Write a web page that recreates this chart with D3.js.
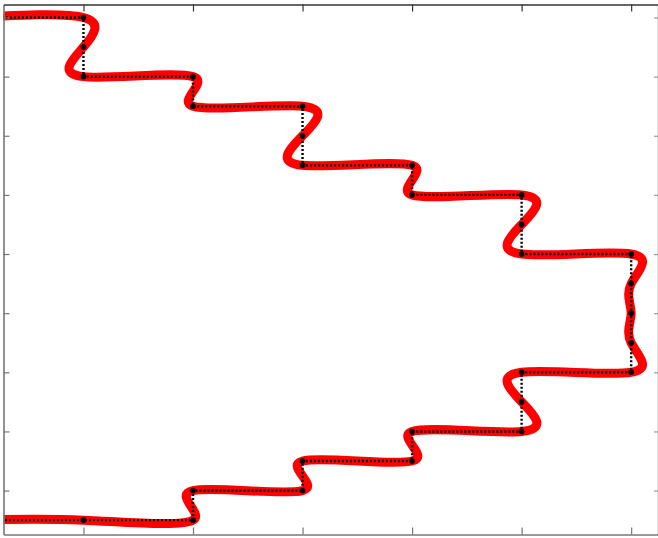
<!DOCTYPE html>
<html>
<head>
<meta charset="utf-8">
<script src="https://cdn.jsdelivr.net/npm/d3@7"></script>
<style>
  html, body { margin: 0; padding: 0; background: #fff; }
  svg { display: block; }
</style>
</head>
<body>
<svg id="chart" width="658" height="538"></svg>
<script>
// Path vertices (x, y) in axis units
const xs = [0, 1, 1, 1, 2, 2, 3, 3, 3, 4, 4, 5, 5, 5, 6, 6, 6, 6, 6, 5, 5, 5, 4, 4, 3, 3, 2, 2, 1, 0];
const ys = [9, 9, 8.5, 8, 8, 7.5, 7.5, 7, 6.5, 6.5, 6, 6, 5.5, 5, 5, 4.5, 4, 3.5, 3, 3, 2.5, 2, 2, 1.5, 1.5, 1, 1, 0.5, 0.5, 0.5];
const xTicks = [1, 2, 3, 4, 5, 6];
const yTicks = [1, 2, 3, 4, 5, 6, 7, 8, 9];
const xDomain = [0.27, 6.245];
const yDomain = [0.257, 9.22];

const pts = xs.map((x, i) => [x, ys[i]]);

const mLeft = 3.5, mRight = 658, mTop = 4.5, mBottom = 534.5;
const svg = d3.select("#chart");
const x = d3.scaleLinear().domain(xDomain).range([mLeft, mRight]);
const y = d3.scaleLinear().domain(yDomain).range([mBottom, mTop]);

svg.append("defs").append("clipPath").attr("id", "clip")
  .append("rect").attr("x", mLeft).attr("y", mTop)
  .attr("width", mRight - mLeft).attr("height", mBottom - mTop);

const g = svg.append("g").attr("clip-path", "url(#clip)");

// Smooth spline (red)
g.append("path")
  .datum(pts)
  .attr("fill", "none")
  .attr("stroke", "#ff0000")
  .attr("stroke-width", 9)
  .attr("stroke-linecap", "round")
  .attr("stroke-linejoin", "round")
  .attr("d", d3.line().x(d => x(d[0])).y(d => y(d[1])).curve(d3.curveNatural));

// Dotted polyline (black)
g.append("path")
  .datum(pts)
  .attr("fill", "none")
  .attr("stroke", "#000")
  .attr("stroke-width", 2.4)
  .attr("stroke-dasharray", "2,2")
  .attr("d", d3.line().x(d => x(d[0])).y(d => y(d[1])));

// Vertex markers
g.selectAll("circle.v")
  .data(pts)
  .join("circle")
  .attr("class", "v")
  .attr("cx", d => x(d[0]))
  .attr("cy", d => y(d[1]))
  .attr("r", 2.8)
  .attr("fill", "#000");

// Axes (ticks inward, no labels)
function styleAxis(sel, color) {
  sel.selectAll("path").attr("stroke", color).attr("stroke-width", 1.6);
  sel.selectAll("line").attr("stroke", color).attr("stroke-width", 1.2);
  sel.selectAll("text").remove();
}
svg.append("g").attr("transform", `translate(${mLeft},0)`)
  .call(d3.axisLeft(y).tickValues(yTicks).tickSize(-6).tickSizeOuter(0).tickFormat(""))
  .call(s => styleAxis(s, "#777"));
svg.append("g").attr("transform", `translate(${mRight},0)`)
  .call(d3.axisRight(y).tickValues(yTicks).tickSize(-4).tickSizeOuter(0).tickFormat(""))
  .call(s => styleAxis(s, "#999"));
svg.append("g").attr("transform", `translate(0,${mTop})`)
  .call(d3.axisTop(x).tickValues(xTicks).tickSize(-7).tickSizeOuter(0).tickFormat(""))
  .call(s => styleAxis(s, "#333"));
svg.append("g").attr("transform", `translate(0,${mBottom})`)
  .call(d3.axisBottom(x).tickValues(xTicks).tickSize(-7).tickSizeOuter(0).tickFormat(""))
  .call(s => styleAxis(s, "#777"));
</script>
</body>
</html>
